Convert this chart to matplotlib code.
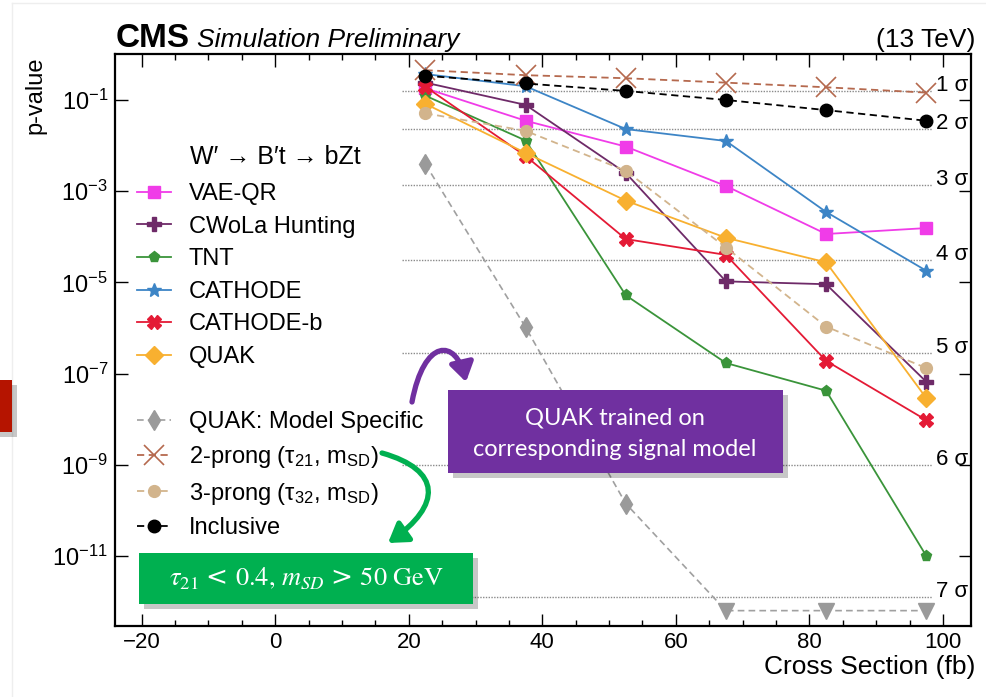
import matplotlib
matplotlib.use("Agg")
import matplotlib.pyplot as plt
from matplotlib.lines import Line2D
from matplotlib.patches import Rectangle, FancyArrowPatch
from matplotlib.path import Path
from matplotlib.ticker import FixedLocator, MultipleLocator, NullLocator
import numpy as np

# ---------------- data ----------------
cross_section = [22.5, 37.5, 52.5, 67.5, 82.5, 97.5]

vae_qr = [0.18, 0.035, 9.5e-3, 1.3e-3, 1.15e-4, 1.55e-4]
cwola = [0.24, 0.078, 2.5e-3, 1.05e-5, 9.1e-6, 6.6e-8]
tnt = [0.124, 0.0129, 5.2e-6, 1.7e-7, 4.2e-8, 1.0e-11]
cathode = [0.37, 0.20, 0.023, 0.0126, 3.5e-4, 1.8e-5]
cathode_b = [0.195, 5.9e-3, 8.9e-5, 4.0e-5, 1.9e-7, 9.5e-9]
quak = [0.082, 6.9e-3, 6.2e-4, 9.5e-5, 2.75e-5, 2.9e-8]
quak_ms = [3.9e-3, 1.03e-6, 1.4e-10, 6.3e-13, 6.3e-13, 6.3e-13]
quak_ms_is_limit = [False, False, False, True, True, True]
two_prong = [0.45, 0.35, 0.30, 0.24, 0.19, 0.145]
three_prong = [0.051, 0.021, 2.8e-3, 5.8e-5, 1.07e-6, 1.32e-7]
inclusive = [0.34, 0.23, 0.158, 0.10, 0.06, 0.035]

sigma_levels = [1, 2, 3, 4, 5, 6, 7]
sigma_pvalues = [1.587e-1, 2.275e-2, 1.350e-3, 3.167e-5, 2.867e-7, 9.866e-10, 1.280e-12]
sigma_labels = ["1 σ", "2 σ", "3 σ", "4 σ", "5 σ", "6 σ", "7 σ"]

ytick_vals = [1e-1, 1e-3, 1e-5, 1e-7, 1e-9, 1e-11]
ytick_labels = [r"$10^{-1}$", r"$10^{-3}$", r"$10^{-5}$", r"$10^{-7}$", r"$10^{-9}$", r"$10^{-11}$"]

# ---------------- style ----------------
plt.rcParams["font.family"] = ["Liberation Sans", "DejaVu Sans"]
plt.rcParams["mathtext.fontset"] = "custom"
plt.rcParams["mathtext.rm"] = "Liberation Sans"
plt.rcParams["mathtext.it"] = "Liberation Sans:italic"
plt.rcParams["mathtext.default"] = "regular"

W, H = 986, 697
fig = plt.figure(figsize=(W / 100, H / 100), dpi=100)


def fx(px):
    return px / W


def fy(py):
    return 1 - py / H


ax = fig.add_axes([fx(115), fy(626), (971 - 115) / W, (626 - 54) / H])
ax.set_yscale("log")
ax.set_xlim(-24, 104.2)
ax.set_ylim(2.9e-13, 1.02)

# sigma lines
for p, lab in zip(sigma_pvalues, sigma_labels):
    ax.plot([19, 98.3], [p, p], color="#8a8a8a", lw=1.0, ls=(0, (1, 1)), zorder=1)
    ax.text(99.0, p, lab, fontsize=16, ha="left", va="baseline", zorder=5)

lw = 1.3
series = [
    ("VAE-QR", vae_qr, dict(color="#F03CE8", marker="s", ms=9, ls="-")),
    ("CWoLa Hunting", cwola, dict(color="#6E2A68", marker="P", ms=10, ls="-")),
    ("TNT", tnt, dict(color="#3A943A", marker="p", ms=8, ls="-")),
    ("CATHODE", cathode, dict(color="#3D85C6", marker="*", ms=10, ls="-")),
    ("CATHODE-b", cathode_b, dict(color="#E41A35", marker="X", ms=10, ls="-")),
    ("QUAK", quak, dict(color="#F8B030", marker="D", ms=9, ls="-")),
]
handles = []
for name, vals, st in series:
    (h,) = ax.plot(cross_section, vals, lw=lw, mec=st["color"], mfc=st["color"], zorder=3, label=name, **st)
    handles.append(h)

# QUAK model specific: dashed gray, diamonds + downward triangles for limits
ax.plot(cross_section, quak_ms, color="#a0a0a0", lw=1.2, ls=(0, (4, 2.5)), zorder=2)
xs_pt = [x for x, l in zip(cross_section, quak_ms_is_limit) if not l]
ys_pt = [y for y, l in zip(quak_ms, quak_ms_is_limit) if not l]
xs_lim = [x for x, l in zip(cross_section, quak_ms_is_limit) if l]
ys_lim = [y for y, l in zip(quak_ms, quak_ms_is_limit) if l]
ax.plot(xs_pt, ys_pt, ls="none", marker="d", ms=10, color="#9a9a9a", zorder=3)
ax.plot(xs_lim, ys_lim, ls="none", marker="v", ms=12, color="#9a9a9a", zorder=3)
h_ms = Line2D([], [], color="#a0a0a0", lw=1.2, ls=(0, (4, 2.5)), marker="d", ms=10, mfc="#9a9a9a", mec="#9a9a9a")

(h_2p,) = ax.plot(cross_section, two_prong, color="#B5694E", lw=1.3, ls=(0, (4, 2.5)),
                  marker="x", ms=15, mew=1.2, zorder=3)
(h_3p,) = ax.plot(cross_section, three_prong, color="#D2B48C", lw=1.3, ls=(0, (4, 2.5)),
                  marker="o", ms=8.5, zorder=3)
(h_inc,) = ax.plot(cross_section, inclusive, color="black", lw=1.3, ls=(0, (4, 2.5)),
                   marker="o", ms=9, zorder=4)

blank = Line2D([], [], ls="none", marker="none")
leg_handles = handles + [blank, h_ms, h_2p, h_3p, h_inc]
leg_labels = [s[0] for s in series] + ["", "QUAK: Model Specific",
                                       "2-prong (τ$_{21}$, m$_{SD}$)",
                                       "3-prong (τ$_{32}$, m$_{SD}$)", "Inclusive"]
leg = ax.legend(leg_handles, leg_labels, loc="upper left", bbox_to_anchor=(fx(137), fy(183)),
                bbox_transform=fig.transFigure, frameon=False, fontsize=17, borderpad=0,
                borderaxespad=0, handlelength=1.45, handletextpad=0.75, labelspacing=0.45,
                numpoints=1)
fig.text(fx(190), fy(157), "W′ → B′t → bZt", fontsize=18, va="center", ha="left")

# ticks
ax.yaxis.set_major_locator(FixedLocator(ytick_vals))
ax.set_yticklabels(ytick_labels)
ax.yaxis.set_minor_locator(NullLocator())
ax.xaxis.set_major_locator(MultipleLocator(20))
ax.xaxis.set_minor_locator(MultipleLocator(5))
ax.tick_params(axis="both", which="major", direction="in", length=9, width=1.0,
               top=True, right=True, labelsize=16)
ax.tick_params(axis="y", which="major", labelsize=17)
ax.tick_params(axis="x", which="minor", direction="in", length=4.5, width=1.0, top=True)
ax.tick_params(axis="y", which="major", pad=5)
ax.tick_params(axis="x", which="major", pad=4)
for sp in ax.spines.values():
    sp.set_linewidth(1.6)

# labels
fig.text(fx(975), fy(667), "Cross Section (fb)", fontsize=19, ha="right", va="center")
fig.text(fx(35), fy(57), "p-value", fontsize=17, rotation=90, ha="center", va="top")
fig.text(fx(116), fy(47), "CMS", fontsize=24, fontweight="bold", ha="left", va="baseline")
fig.text(fx(197), fy(47), "Simulation Preliminary", fontsize=19, style="italic", ha="left", va="baseline")
fig.text(fx(975), fy(47), "(13 TeV)", fontsize=19, ha="right", va="baseline")

# ---------------- overlay annotations ----------------
def box(x0, y0, x1, y1, color, z=20):
    sh = Rectangle((fx(x0 + 5), fy(y1 + 5)), (x1 - x0) / W, (y1 - y0) / H, transform=fig.transFigure,
                   facecolor="#000000", alpha=0.22, edgecolor="none", zorder=z - 1)
    fig.add_artist(sh)
    r = Rectangle((fx(x0), fy(y1)), (x1 - x0) / W, (y1 - y0) / H, transform=fig.transFigure,
                  facecolor=color, edgecolor="none", zorder=z)
    fig.add_artist(r)


# faint slide border
fig.add_artist(Line2D([fx(12), fx(986)], [fy(3), fy(3)], transform=fig.transFigure, color="#eeeeee", lw=1))
fig.add_artist(Line2D([fx(12), fx(12)], [fy(3), fy(697)], transform=fig.transFigure, color="#eeeeee", lw=1))

# red tab at left
box(-5, 380, 12, 432, "#B51400")

# purple box
box(448, 390, 783, 473, "#7030A0")
fig.text(fx(615), fy(418), "QUAK trained on", color="white", fontsize=17, family="Lato",
         ha="center", va="center", zorder=21)
fig.text(fx(615), fy(450), "corresponding signal model", color="white", fontsize=17, family="Lato",
         ha="center", va="center", zorder=21)

# green box
box(139, 553, 473, 604, "#00B050")
fig.text(fx(306), fy(579),
         r"$\mathit{\tau}_{\mathrm{21}}\,<\,\mathrm{0.4,}\,\mathit{m}_{\mathit{SD}}\,>\,\mathrm{50\ GeV}$",
         color="white", fontsize=19, math_fontfamily="stix", family="DejaVu Serif",
         ha="center", va="center", zorder=21)


def curved_arrow(pts, color):
    verts = [(fx(x), fy(y)) for x, y in pts]
    path = Path(verts, [Path.MOVETO, Path.CURVE4, Path.CURVE4, Path.CURVE4])
    a = FancyArrowPatch(path=path, transform=fig.transFigure, arrowstyle="-|>,head_length=7,head_width=4.5",
                        color=color, lw=3.8, zorder=22, mutation_scale=1.6)
    fig.add_artist(a)


curved_arrow([(412, 402), (424, 338), (456, 338), (466, 382)], "#7030A0")
curved_arrow([(382, 453), (442, 470), (442, 505), (388, 543)], "#00B050")

fig.savefig("out.png", dpi=100)
